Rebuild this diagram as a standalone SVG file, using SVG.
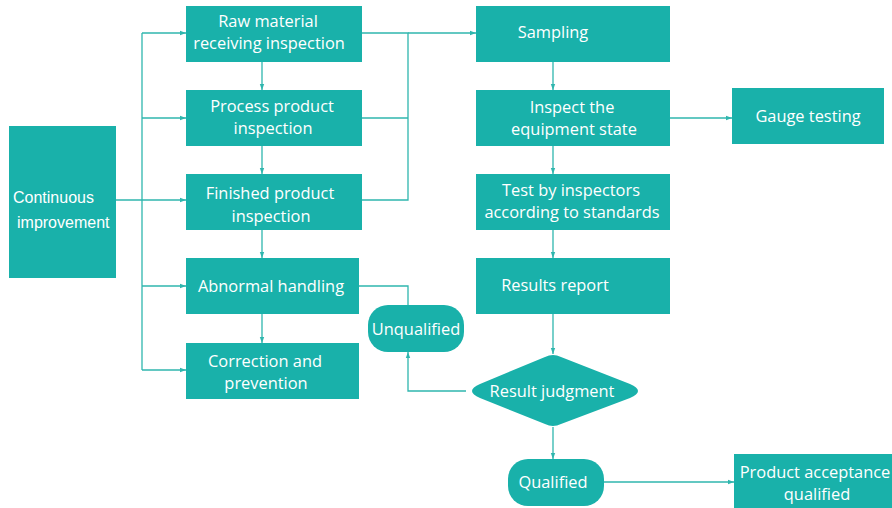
<svg xmlns="http://www.w3.org/2000/svg" width="892" height="508" viewBox="0 0 892 508">
<style>
.box{fill:#19b1aa}
.t{font-family:"Open Sans","Liberation Sans",sans-serif;font-size:16.4px;fill:#fff;text-anchor:middle}
.tl{font-family:"Liberation Sans",Arial,sans-serif;font-size:16px;fill:#fff}
.c{fill:none;stroke:#2fb6ae;stroke-width:1.3}
</style>
<defs>
<marker id="a" viewBox="0 0 6 6" refX="6" refY="3" markerWidth="6" markerHeight="6" markerUnits="userSpaceOnUse" orient="auto">
<path d="M0 0.8 L6 3 L0 5.2 Z" fill="#2fb6ae"/>
</marker>
</defs>
<rect width="892" height="508" fill="#fff"/>
<g id="connectors">
<path class="c" d="M116 200 H186" marker-end="url(#a)"/>
<path class="c" d="M142 33 V370"/>
<path class="c" d="M142 33 H186" marker-end="url(#a)"/>
<path class="c" d="M142 118 H186" marker-end="url(#a)"/>
<path class="c" d="M142 286 H186" marker-end="url(#a)"/>
<path class="c" d="M142 370 H186" marker-end="url(#a)"/>
<path class="c" d="M262 62 V90" marker-end="url(#a)"/>
<path class="c" d="M262 146 V174" marker-end="url(#a)"/>
<path class="c" d="M262 230 V258" marker-end="url(#a)"/>
<path class="c" d="M262 314 V343" marker-end="url(#a)"/>
<path class="c" d="M362 33 H408 V200 H362"/>
<path class="c" d="M362 118 H408"/>
<path class="c" d="M408 33 H476" marker-end="url(#a)"/>
<path class="c" d="M553 62 V90" marker-end="url(#a)"/>
<path class="c" d="M553 146 V174" marker-end="url(#a)"/>
<path class="c" d="M553 230 V258" marker-end="url(#a)"/>
<path class="c" d="M553 314 V354" marker-end="url(#a)"/>
<path class="c" d="M553 427 V459" marker-end="url(#a)"/>
<path class="c" d="M670 118 H732" marker-end="url(#a)"/>
<path class="c" d="M604 482 H734" marker-end="url(#a)"/>
<path class="c" d="M359 286 H408 V305"/>
<path class="c" d="M466 391 H408 V352" marker-end="url(#a)"/>
</g>
<g id="continuous">
<rect class="box" x="9" y="126" width="107" height="152"/>
<text class="tl" x="13" y="203">Continuous</text>
<text class="tl" x="17" y="228">improvement</text>
</g>
<g id="raw">
<rect class="box" x="186" y="6" width="176" height="56"/>
<text class="t" x="268" y="27">Raw material</text>
<text class="t" x="269" y="49">receiving inspection</text>
</g>
<g id="process">
<rect class="box" x="186" y="90" width="176" height="56"/>
<text class="t" x="272" y="112">Process product</text>
<text class="t" x="273" y="134">inspection</text>
</g>
<g id="finished">
<rect class="box" x="186" y="174" width="176" height="56"/>
<text class="t" x="270" y="199">Finished product</text>
<text class="t" x="271" y="222">inspection</text>
</g>
<g id="abnormal">
<rect class="box" x="186" y="258" width="173" height="56"/>
<text class="t" x="271" y="292">Abnormal handling</text>
</g>
<g id="correction">
<rect class="box" x="186" y="343" width="173" height="56"/>
<text class="t" x="265" y="367">Correction and</text>
<text class="t" x="266" y="389">prevention</text>
</g>
<g id="unqualified">
<rect class="box" x="368" y="305" width="96" height="47" rx="20"/>
<text class="t" x="416" y="335">Unqualified</text>
</g>
<g id="sampling">
<rect class="box" x="476" y="6" width="194" height="56"/>
<text class="t" x="553" y="38">Sampling</text>
</g>
<g id="inspect">
<rect class="box" x="476" y="90" width="194" height="56"/>
<text class="t" x="572" y="113">Inspect the</text>
<text class="t" x="574" y="135">equipment state</text>
</g>
<g id="gauge">
<rect class="box" x="732" y="88" width="152" height="56"/>
<text class="t" x="808" y="122">Gauge testing</text>
</g>
<g id="test">
<rect class="box" x="476" y="174" width="194" height="56"/>
<text class="t" x="571" y="196">Test by inspectors</text>
<text class="t" x="572" y="218">according to standards</text>
</g>
<g id="results">
<rect class="box" x="476" y="258" width="194" height="56"/>
<text class="t" x="555" y="291">Results report</text>
</g>
<g id="judgment">
<path class="box" d="M545 357 Q553 353 561 357 L630 384 Q646 391 630 398 L561 424 Q553 428 545 424 L480 398 Q464 391 480 384 Z"/>
<text class="t" x="552" y="397">Result judgment</text>
</g>
<g id="qualified">
<rect class="box" x="508" y="459" width="96" height="47" rx="20"/>
<text class="t" x="553" y="488">Qualified</text>
</g>
<g id="acceptance">
<rect class="box" x="734" y="454" width="158" height="54"/>
<text class="t" x="815" y="478">Product acceptance</text>
<text class="t" x="817" y="500">qualified</text>
</g>
</svg>
